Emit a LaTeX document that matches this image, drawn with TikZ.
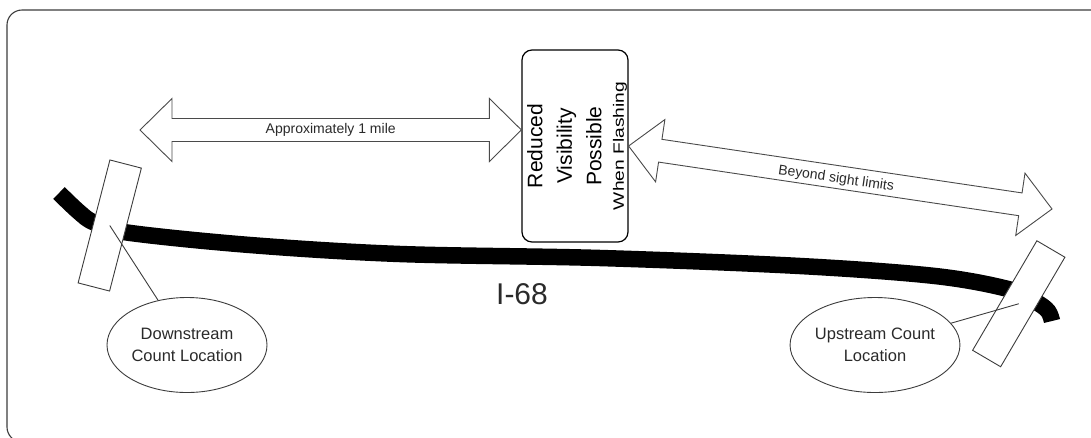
\documentclass[tikz,border=0pt]{standalone}
\usepackage{fontspec}
\usepackage{graphicx}
\setmainfont{Liberation Sans}
\usetikzlibrary{shapes.geometric,calc}
\definecolor{linegray}{HTML}{3C3C3C}
\definecolor{arrowgray}{HTML}{4A4A4A}
\definecolor{textgray}{HTML}{2A2A2A}
\newcommand{\dblarrow}[2]{%
  \coordinate (h1) at ($(#1)!32pt!(#2)$);
  \coordinate (h2) at ($(#2)!32pt!(#1)$);
  \draw[blockarrow] (#1) -- ($(h1)!31.5pt!90:(#2)$) -- ($(h1)!11.5pt!90:(#2)$)
    -- ($(h2)!11.5pt!-90:(#1)$) -- ($(h2)!31.5pt!-90:(#1)$) -- (#2)
    -- ($(h2)!31.5pt!90:(#1)$) -- ($(h2)!11.5pt!90:(#1)$)
    -- ($(h1)!11.5pt!-90:(#2)$) -- ($(h1)!31.5pt!-90:(#2)$) -- cycle;}
\begin{document}
\begin{tikzpicture}[x=1pt,y=-1pt,
  blockarrow/.style={draw=arrowgray,fill=white,line width=0.9pt,line join=miter},
  lbl/.style={font=\fontsize{14}{16}\selectfont,text=textgray,inner sep=0pt},
  sensor/.style={rectangle,draw=linegray,fill=white,line width=0.9pt,minimum width=32.5,minimum height=127,inner sep=0pt},
  place/.style={ellipse,draw=linegray,line width=0.9pt,minimum width=160,minimum height=95,inner sep=0pt,align=center,font=\fontsize{16.5}{22}\selectfont,text=textgray},
  leader/.style={draw=linegray,line width=0.9pt},
  road/.style={line width=16.5pt,black},
  signbox/.style={rectangle,draw=black,line width=1.2pt,rounded corners=10pt,minimum width=106,minimum height=192,inner sep=0pt}
]
\useasboundingbox (0,0) rectangle (1091,437);
\clip (0,0) rectangle (1091,437);
% frame
\draw[linegray,line width=1.1pt,rounded corners=15pt] (7,10) rectangle (1110,442);
% road
\draw[road] plot[smooth,tension=0.55] coordinates {(59,193) (79,212) (94,222.5) (127,232.5) (250,245) (400,254) (600,258) (800,266) (935,276) (1008,289) (1036,302) (1048,311) (1052,321)};
\node[font=\fontsize{30}{32}\selectfont,text=textgray,inner sep=0pt] (road label) at (522,294.5) {I-68};
% sign box
\node[signbox] (box) at (575,146) {};
\node[rotate=90,align=center,inner sep=0pt,font=\fontsize{21}{29.5}\selectfont] (boxtext) at (577,146)
  {Reduced\\Visibility\\Possible\\[-7pt]
   \fontsize{15}{18}\selectfont\scalebox{1.28}[1]{When Flashing}};
% arrows
\coordinate (a1L) at (140,130);
\coordinate (a1R) at ($(box.north west)!0.417!(box.south west)$);
\dblarrow{a1L}{a1R}
\node[lbl] (a1lab) at ($(a1L)!0.5!(a1R)$) {Approximately 1 mile};
\coordinate (a2L) at (box.east);
\coordinate (a2R) at (1052,209);
\dblarrow{a2L}{a2R}
\node[lbl,rotate=-8.3] (a2lab) at ($($(a2L)!0.49!(a2R)$)+(0,2)$) {Beyond sight limits};
% sensors
\node[sensor,rotate=-14.5] (lsens) at (109.75,225.5) {};
\node[sensor,rotate=-30.4] (rsens) at (1018.75,303.75) {};
% count locations
\node[place] (lplace) at (187,345) {Downstream\\Count Location};
\node[place] (rplace) at (875,345) {Upstream Count\\Location};
\draw[leader] (lsens.center) -- (lplace);
\draw[leader] (rsens.center) -- (rplace);
\end{tikzpicture}
\end{document}
